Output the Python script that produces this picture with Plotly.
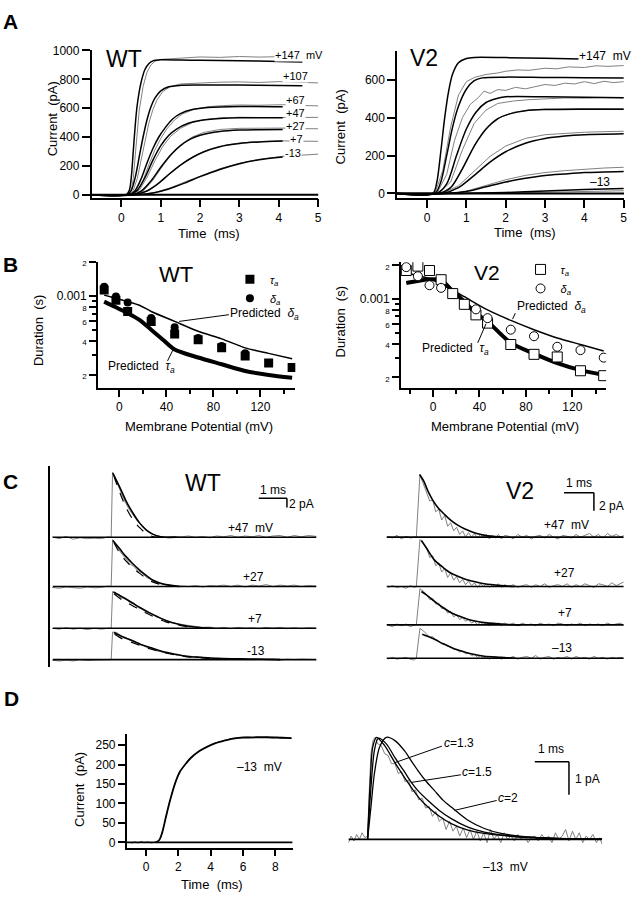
import plotly.graph_objects as go

W, H = 639, 900
FONT = "Liberation Sans, Arial, Helvetica, sans-serif"
GRAY = "#808080"


def fx(px):
    return px / W


def fy(py):
    return 1 - py / H


# ======================= DATA =======================
# ---- Panel A : WT macroscopic currents (time ms, current pA)
A_WT_LABELS = ["+147\u00a0 mV", "+107", "+67", "+47", "+27", "+7", "-13"]
A_WT_FIT_T = [
    [-0.76, 0.12, 0.2, 0.25, 0.3, 0.35, 0.4, 0.5, 0.6, 0.7, 0.8, 1.0, 1.5, 2, 3, 4, 4.6],
    [-0.76, 0.15, 0.25, 0.35, 0.45, 0.55, 0.65, 0.75, 0.85, 1.0, 1.2, 1.5, 2.0, 3.0, 4.0, 4.6],
    [-0.76, 0.2, 0.35, 0.5, 0.65, 0.8, 0.95, 1.1, 1.3, 1.5, 1.8, 2.2, 3.0, 4.1],
    [-0.76, 0.2, 0.4, 0.6, 0.8, 1.0, 1.2, 1.4, 1.7, 2.0, 2.5, 3.0, 4.1],
    [-0.76, 0.25, 0.5, 0.75, 1.0, 1.25, 1.5, 1.75, 2.0, 2.5, 3.0, 4.1],
    [-0.76, 0.3, 0.6, 0.9, 1.2, 1.5, 1.8, 2.1, 2.5, 3.0, 3.5, 4.1],
    [-0.76, 0.4, 0.8, 1.2, 1.6, 2.0, 2.5, 3.0, 3.5, 4.1],
]
A_WT_FIT_I = [
    [0, 0, 30, 120, 300, 480, 620, 780, 870, 910, 928, 935, 934, 932, 928, 924, 920],
    [0, 0, 30, 120, 260, 400, 520, 610, 670, 720, 748, 758, 760, 760, 757, 755],
    [0, 0, 30, 110, 220, 320, 400, 460, 525, 562, 590, 605, 612, 610],
    [0, 0, 30, 120, 240, 340, 410, 455, 495, 515, 528, 533, 533],
    [0, 0, 25, 95, 190, 275, 340, 385, 412, 438, 448, 452],
    [0, 0, 20, 70, 140, 205, 258, 298, 333, 355, 366, 372],
    [0, 0, 12, 40, 80, 125, 175, 215, 243, 262],
]
A_WT_DATA_T = [
    [-0.76, 0.17, 0.25, 0.3, 0.35, 0.4, 0.45, 0.55, 0.65, 0.75, 0.85, 1.0, 1.2, 1.5, 2.0, 2.5, 3.0, 3.5, 4.0, 4.5, 5.0],
    [-0.76, 0.2, 0.3, 0.4, 0.5, 0.6, 0.7, 0.8, 0.9, 1.05, 1.25, 1.5, 2.0, 2.5, 3.0, 3.5, 4.0, 4.5, 5.0],
    [-0.76, 0.25, 0.4, 0.55, 0.7, 0.85, 1.0, 1.15, 1.35, 1.55, 1.85, 2.2, 2.6, 3.0, 3.5, 4.1, 4.6, 5.0],
    [-0.76, 0.25, 0.45, 0.65, 0.85, 1.05, 1.25, 1.5, 1.8, 2.1, 2.5, 3.0, 3.5, 4.1, 4.6, 5.0],
    [-0.76, 0.3, 0.55, 0.8, 1.05, 1.3, 1.55, 1.8, 2.1, 2.5, 3.0, 3.5, 4.1, 4.6, 5.0],
    [-0.76, 0.35, 0.7, 1.0, 1.3, 1.6, 1.9, 2.2, 2.6, 3.0, 3.5, 4.1, 4.6, 5.0],
    [-0.76, 0.45, 0.85, 1.25, 1.65, 2.05, 2.5, 3.0, 3.5, 4.1, 4.6, 5.0],
]
A_WT_DATA_I = [
    [0, 0, 30, 110, 270, 440, 580, 750, 850, 900, 925, 938, 942, 948, 955, 952, 958, 954, 957, 953, 950],
    [0, 0, 30, 110, 240, 380, 500, 590, 655, 715, 750, 768, 776, 780, 782, 778, 784, 780, 775],
    [0, 0, 25, 100, 210, 310, 390, 455, 518, 560, 592, 610, 618, 622, 620, 624, 618, 616],
    [0, 0, 30, 120, 235, 335, 405, 460, 500, 520, 532, 537, 535, 537, 535, 536],
    [0, 0, 25, 100, 200, 288, 355, 400, 432, 452, 460, 462, 462, 458, 457],
    [0, 0, 30, 88, 160, 225, 275, 312, 342, 358, 368, 373, 371, 370],
    [0, 0, 15, 48, 92, 135, 180, 218, 245, 266, 276, 281],
]
A_WT_LABEL_POS = [(275, 49), (283, 70), (286, 94), (286, 107.5), (286, 120), (290, 133.5), (285, 148)]

# ---- Panel A : V2
A_V2_FIT_T = [
    [-0.76, 0.15, 0.25, 0.35, 0.45, 0.55, 0.65, 0.8, 1.0, 1.2, 2.0, 3.0, 3.9],
    [-0.76, 0.2, 0.35, 0.5, 0.65, 0.8, 1.0, 1.2, 1.4, 2.0, 3.0, 4.0, 5.0],
    [-0.76, 0.25, 0.5, 0.75, 1.0, 1.25, 1.5, 1.75, 2.0, 3.0, 4.0, 5.0],
    [-0.76, 0.3, 0.6, 0.9, 1.2, 1.5, 1.8, 2.1, 2.5, 3.0, 4.0, 5.0],
    [-0.76, 0.4, 0.8, 1.2, 1.6, 2.0, 2.5, 3.0, 3.5, 4.0, 5.0],
    [-0.76, 0.5, 1.0, 1.5, 2.0, 2.5, 3.0, 3.5, 4.0, 5.0],
    [-0.76, 0.8, 2.0, 3.0, 4.0, 5.0],
]
A_V2_FIT_I = [
    [0, 0, 60, 220, 400, 540, 630, 690, 712, 718, 717, 714, 710],
    [0, 0, 60, 200, 350, 460, 550, 595, 610, 614, 612, 611, 610],
    [0, 0, 50, 200, 340, 430, 480, 500, 510, 510, 508, 505],
    [0, 0, 30, 130, 250, 340, 395, 420, 437, 443, 445, 445],
    [0, 0, 30, 95, 165, 220, 265, 290, 303, 310, 315],
    [0, 0, 10, 35, 60, 80, 95, 103, 110, 116],
    [0, 0, 5, 12, 20, 26],
]
A_V2_DATA_T = [
    [-0.76, 0.2, 0.4, 0.6, 0.8, 1.0, 1.2, 1.5, 1.8, 2.0, 2.3, 2.6, 3.0, 3.3, 3.6, 4.0, 4.3, 4.6, 5.0],
    [-0.76, 0.25, 0.5, 0.7, 0.9, 1.1, 1.3, 1.45, 1.6, 1.8, 2.0, 2.25, 2.5, 2.75, 3.0, 3.25, 3.5, 3.75, 4.0, 4.25, 4.5, 4.75, 5.0],
    [-0.76, 0.3, 0.6, 0.9, 1.2, 1.5, 1.8, 2.2, 2.6, 3.0, 3.5, 4.0, 4.5, 5.0],
    [-0.76, 0.35, 0.65, 0.95, 1.25, 1.55, 1.85, 2.2, 2.6, 3.0, 4.0, 5.0],
    [-0.76, 0.4, 0.8, 1.2, 1.6, 2.0, 2.5, 3.0, 3.5, 4.0, 4.5, 5.0],
    [-0.76, 0.5, 1.0, 1.5, 2.0, 2.5, 3.0, 3.5, 4.0, 4.5, 5.0],
    [-0.76, 1.0, 2.0, 3.0, 4.0, 5.0],
]
A_V2_DATA_I = [
    [0, 0, 120, 350, 520, 590, 612, 628, 636, 645, 652, 650, 661, 658, 668, 665, 674, 671, 675],
    [0, 0, 100, 280, 400, 470, 505, 540, 528, 548, 544, 560, 552, 565, 575, 570, 582, 578, 590, 580, 592, 585, 590],
    [0, 0, 60, 230, 370, 440, 475, 488, 495, 500, 504, 503, 506, 505],
    [0, 0, 40, 150, 270, 350, 400, 428, 440, 445, 448, 447],
    [0, 0, 40, 120, 195, 250, 290, 310, 318, 323, 326, 328],
    [0, 0, 12, 42, 72, 95, 110, 120, 128, 134, 138],
    [0, 0, 3, 6, 10, 14],
]

# ---- Panel B : durations (mV, s)
B_WT_TAU_V = [-13, -3, 7, 27, 47, 67, 87, 107, 127, 147]
B_WT_TAU = [1.13e-3, 9.2e-4, 7.3e-4, 5.96e-4, 4.6e-4, 4.1e-4, 3.48e-4, 2.94e-4, 2.54e-4, 2.32e-4]
B_WT_DEL_V = [-13, -3, 7, 27, 47, 67, 87, 107]
B_WT_DEL = [1.21e-3, 9.9e-4, 8.75e-4, 6.4e-4, 5.28e-4, 4.25e-4, 3.6e-4, 3.1e-4]
B_WT_PD_V = [-13, -3, 7, 17, 27, 47, 67, 87, 107, 127, 147]
B_WT_PD = [1.02e-3, 9.55e-4, 8.93e-4, 8.3e-4, 7.3e-4, 5.96e-4, 4.87e-4, 4.17e-4, 3.47e-4, 3.1e-4, 2.78e-4]
B_WT_PT_V = [-13, -3, 7, 17, 27, 37, 47, 67, 87, 107, 127, 147]
B_WT_PT = [8.93e-4, 7.96e-4, 7.05e-4, 6.16e-4, 5.03e-4, 4.1e-4, 3.36e-4, 2.85e-4, 2.48e-4, 2.16e-4, 1.99e-4, 1.88e-4]

B_V2_TAU_V = [-23, -13, -3, 7, 17, 27, 37, 47, 67, 87, 107, 127, 147]
B_V2_TAU = [1.8e-3, 1.97e-3, 1.8e-3, 1.49e-3, 1.12e-3, 8.98e-4, 7.23e-4, 6.1e-4, 3.93e-4, 3.21e-4, 3.04e-4, 2.29e-4, 2.07e-4]
B_V2_DEL_V = [-23, -13, -3, 7, 37, 47, 67, 87, 107, 127, 147]
B_V2_DEL = [1.93e-3, 1.6e-3, 1.33e-3, 1.26e-3, 8.1e-4, 6.76e-4, 5.33e-4, 4.66e-4, 3.75e-4, 3.5e-4, 3.0e-4]
B_V2_PD_V = [-23, -3, 17, 27, 47, 67, 87, 107, 127, 147]
B_V2_PD = [1.71e-3, 1.52e-3, 1.2e-3, 1.05e-3, 8.0e-4, 6.45e-4, 5.33e-4, 4.5e-4, 3.93e-4, 3.44e-4]
B_V2_PT_V = [-23, -13, -3, 7, 17, 27, 37, 47, 67, 87, 107, 127, 147]
B_V2_PT = [1.39e-3, 1.45e-3, 1.5e-3, 1.47e-3, 1.18e-3, 9.5e-4, 7.46e-4, 6.3e-4, 4.06e-4, 3.26e-4, 2.68e-4, 2.32e-4, 2.1e-4]

B_Y_TICKVALS = [2e-4, 4e-4, 6e-4, 8e-4, 1e-3, 2e-3]
B_Y_TICKTEXT = ['<span style="font-size:8px">2</span>', '<span style="font-size:8px">4</span>',
                '<span style="font-size:8px">6</span>', '<span style="font-size:8px">8</span>',
                '0.001', '<span style="font-size:8px">2</span>']
B_Y_MINOR = [3e-4, 5e-4, 7e-4, 9e-4]

# ---- Panel C : unitary-like traces (ms, pA, relative to each baseline)
C_LABELS_WT = ["+47\u00a0 mV", "+27", "+7", "-13"]
C_LABELS_V2 = ["+47\u00a0 mV", "+27", "+7", "\u201313"]
C_WT_BASE = [28.2, 17.5, 8.4, 1.57]      # baseline offsets (layout)
C_V2_BASE = [14.35, 8.89, 4.64, 0.95]

C_WT_FIT_T = [
    [0.06, 0.29, 0.53, 0.76, 1.0, 1.24, 1.47, 1.71, 1.94, 2.3],
    [0.06, 0.29, 0.53, 0.76, 1.0, 1.24, 1.47, 1.7, 1.94, 2.41],
    [0.08, 0.4, 0.76, 1.05, 1.35, 1.65, 1.94, 2.25, 2.53, 3.12, 3.6],
    [0.1, 0.4, 0.76, 1.05, 1.35, 1.65, 1.94, 2.3, 2.65, 3.2, 3.71, 4.3, 4.89, 6.0],
]
C_WT_FIT_Y = [
    [14.0, 11.1, 7.9, 5.4, 3.2, 1.6, 0.7, 0.2, 0.0, 0.0],
    [10.0, 8.3, 6.5, 5.0, 3.6, 2.4, 1.4, 0.8, 0.4, 0.0],
    [7.9, 6.8, 5.5, 4.4, 3.4, 2.5, 1.7, 1.1, 0.65, 0.15, 0.0],
    [5.9, 5.0, 4.1, 3.3, 2.7, 2.1, 1.6, 1.15, 0.75, 0.5, 0.3, 0.2, 0.15, 0.0],
]
C_WT_DASH_T = [
    [0.1, 0.29, 0.53, 0.76, 1.0, 1.24, 1.47, 1.7],
    [0.1, 0.29, 0.53, 0.76, 1.0, 1.24, 1.47, 1.7, 1.94, 2.3],
    [0.1, 0.4, 0.76, 1.05, 1.35, 1.65, 1.94, 2.25, 2.53, 3.0],
    [0.12, 0.4, 0.76, 1.05, 1.35, 1.65, 1.94, 2.3, 2.65, 3.2, 3.71, 4.3],
]
C_WT_DASH_Y = [
    [13.3, 10.0, 6.45, 3.96, 2.15, 0.86, 0.15, 0.0],
    [9.5, 7.4, 5.5, 4.1, 2.9, 1.8, 1.0, 0.5, 0.3, 0.0],
    [7.5, 6.1, 4.9, 3.9, 3.0, 2.1, 1.4, 0.9, 0.5, 0.0],
    [5.5, 4.5, 3.7, 3.0, 2.4, 1.9, 1.45, 1.0, 0.65, 0.35, 0.15, 0.0],
]
C_WT_DATA_T = [-2.1, -1.85, -1.6, -1.35, -1.1, -0.85, -0.6, -0.35, -0.1, 0.0, 0.05,
               0.2, 0.35, 0.5, 0.65, 0.8, 0.95, 1.1, 1.25, 1.4, 1.6, 1.8, 2.0,
               2.25, 2.5, 2.75, 3.0, 3.25, 3.5, 3.75, 4.0, 4.25, 4.5, 4.75, 5.0,
               5.25, 5.5, 5.75, 6.0, 6.25, 6.5, 6.75, 7.0, 7.29]
C_WT_DATA_Y = [
    [0.1, -0.3, 0.2, -0.4, -0.1, -0.3, -0.2, -0.3, 0.1, 0.0, 14.2,
     12.0, 9.5, 7.6, 6.0, 4.6, 3.4, 2.7, 1.6, 0.9, 0.4, 0.1, -0.1,
     0.2, 0.1, 0.3, 0.0, 0.2, -0.1, 0.3, 0.1, 0.4, 0.0, 0.3, 0.1,
     0.4, 0.0, 0.3, 0.4, 0.0, 0.4, 0.1, 0.4, 0.2],
    [-0.2, -0.4, -0.1, -0.3, -0.4, -0.1, -0.3, -0.2, 0.1, 0.0, 10.2,
     8.8, 7.3, 6.2, 5.0, 4.4, 3.4, 2.9, 2.0, 1.5, 0.9, 0.5, 0.3,
     0.2, 0.1, 0.0, 0.2, -0.1, 0.2, 0.1, 0.3, 0.0, 0.3, -0.1, 0.3,
     0.1, 0.4, 0.0, 0.3, 0.1, 0.3, 0.0, 0.2, 0.1],
    [0.0, -0.2, 0.1, -0.2, 0.0, -0.3, 0.0, -0.2, 0.0, 0.0, 8.0,
     7.6, 6.6, 6.6, 5.6, 5.3, 4.5, 4.2, 3.5, 3.3, 2.5, 2.0, 1.6,
     1.1, 0.8, 0.6, 0.4, 0.2, 0.25, 0.0, 0.2, -0.1, 0.2, 0.0, 0.1,
     -0.1, 0.2, 0.0, 0.2, -0.1, 0.1, -0.1, 0.1, 0.0],
    [-0.1, -0.3, -0.1, -0.3, 0.0, -0.2, -0.1, -0.1, 0.0, 0.0, 6.0,
     5.9, 5.1, 4.9, 4.2, 4.0, 3.3, 3.2, 2.7, 2.6, 1.95, 1.6, 1.35,
     1.1, 0.9, 0.7, 0.55, 0.45, 0.35, 0.3, 0.15, 0.2, 0.05, 0.1, 0.0,
     0.1, 0.0, 0.1, -0.1, 0.1, 0.0, 0.1, 0.0, 0.0],
]

C_V2_FIT_T = [
    [0.11, 0.25, 0.39, 0.55, 0.72, 0.95, 1.17, 1.4, 1.61, 1.85, 2.06, 2.3, 2.5, 2.9],
    [0.17, 0.35, 0.61, 0.9, 1.17, 1.45, 1.72, 2.0, 2.28, 2.83, 3.3],
    [0.17, 0.35, 0.61, 0.9, 1.17, 1.45, 1.72, 2.0, 2.28, 2.94, 3.5],
    [0.2, 0.4, 0.61, 0.9, 1.17, 1.45, 1.72, 2.0, 2.28, 2.83, 3.3],
]
C_V2_FIT_Y = [
    [6.93, 6.2, 5.1, 4.1, 3.28, 2.5, 1.83, 1.3, 0.92, 0.6, 0.37, 0.2, 0.11, 0.0],
    [5.1, 4.2, 2.92, 2.1, 1.46, 1.05, 0.73, 0.5, 0.3, 0.1, 0.0],
    [3.7, 3.3, 2.6, 1.9, 1.35, 0.95, 0.62, 0.4, 0.25, 0.07, 0.0],
    [2.66, 2.4, 2.1, 1.6, 1.2, 0.85, 0.58, 0.38, 0.22, 0.1, 0.0],
]
C_V2_DATA_T = [-0.95, -0.8, -0.65, -0.5, -0.35, -0.2, -0.07, 0.0, 0.12,
               0.25, 0.35, 0.45, 0.55, 0.65, 0.75, 0.85, 0.95, 1.05, 1.15,
               1.25, 1.35, 1.45, 1.55, 1.65, 1.75, 1.85, 1.95, 2.05, 2.15,
               2.25, 2.35, 2.45, 2.55, 2.65, 2.75, 2.85, 2.95,
               3.1, 3.25, 3.4, 3.55, 3.7, 3.85, 4.0, 4.15, 4.3, 4.45, 4.6, 4.75, 4.9,
               5.05, 5.2, 5.35, 5.5, 5.65, 5.8, 5.95, 6.1, 6.25, 6.4, 6.55, 6.7, 6.85, 6.95]
C_V2_DATA_Y = [
    [0.1, -0.1, 0.2, -0.2, 0.1, -0.1, 0.0, 0.0, 6.9,
     5.8, 5.0, 4.0, 4.1, 2.8, 3.1, 1.9, 2.4, 1.2, 1.6,
     0.7, 1.1, 0.3, 0.7, 0.0, 0.5, 0.0, 0.4, -0.1, 0.3,
     0.0, 0.3, -0.2, 0.2, -0.1, 0.3, -0.2, 0.2,
     0.1, -0.2, 0.3, 0.0, 0.2, -0.2, 0.1, 0.2, -0.1, 0.3, 0.0, -0.2, 0.2,
     0.1, -0.1, 0.3, 0.0, 0.2, 0.4, 0.0, 0.3, -0.1, 0.4, 0.1, 0.3, 0.0, 0.2],
    [-0.1, 0.1, -0.1, 0.0, -0.2, 0.1, -0.1, 0.0, 5.2,
     4.6, 4.2, 3.2, 3.4, 2.3, 2.6, 1.6, 2.0, 1.0, 1.5,
     0.7, 1.1, 0.4, 0.8, 0.2, 0.6, 0.1, 0.4, -0.1, 0.3,
     0.0, 0.3, -0.1, 0.2, 0.0, 0.3, -0.1, 0.2,
     0.0, 0.2, -0.1, 0.1, 0.2, -0.1, 0.2, 0.0, 0.3, -0.1, 0.1, 0.2, 0.0,
     0.3, -0.1, 0.2, 0.0, 0.3, 0.1, -0.1, 0.3, 0.2, 0.0, 0.4, 0.1, 0.3, 0.5],
    [0.0, -0.2, 0.1, -0.1, 0.1, -0.2, 0.0, 0.0, 4.0,
     3.7, 3.3, 2.8, 2.9, 2.3, 2.4, 1.8, 1.9, 1.3, 1.5,
     0.9, 1.1, 0.6, 0.8, 0.4, 0.6, 0.2, 0.4, 0.0, 0.3,
     0.0, 0.3, -0.1, 0.2, 0.0, 0.2, -0.1, 0.2,
     0.0, 0.2, -0.1, 0.2, 0.0, 0.1, -0.1, 0.2, 0.0, 0.1, -0.1, 0.2, 0.1,
     -0.1, 0.1, 0.0, 0.2, -0.1, 0.1, 0.0, 0.1, -0.1, 0.2, 0.0, 0.1, 0.2, -0.1],
    [-0.1, 0.1, -0.1, 0.0, 0.1, -0.1, -0.2, 0.0, 3.3,
     3.0, 2.6, 2.3, 2.4, 2.0, 1.9, 1.6, 1.6, 1.3, 1.3,
     1.0, 1.0, 0.7, 0.8, 0.5, 0.6, 0.3, 0.4, 0.1, 0.3,
     0.0, 0.2, -0.1, 0.2, 0.0, 0.1, -0.1, 0.1,
     0.0, 0.2, -0.1, 0.1, 0.2, 0.0, 0.3, -0.1, 0.1, 0.2, -0.1, 0.1, 0.0,
     0.2, -0.1, 0.2, 0.0, 0.1, -0.1, 0.2, 0.0, 0.1, -0.1, 0.1, 0.0, 0.1, 0.0],
]

# ---- Panel D left : -13 mV macroscopic current
D_L_DATA_T = [-0.9, -0.7, -0.5, -0.3, -0.1, 0.1, 0.3, 0.5, 0.7, 0.9, 1.1, 1.3, 1.5, 1.7, 1.9,
              2.1, 2.4, 2.7, 3.0, 3.3, 3.6, 3.9, 4.2, 4.5, 4.8, 5.1, 5.4, 5.7, 6.0, 6.3,
              6.6, 6.9, 7.2, 7.5, 7.8, 8.1, 8.4, 8.7, 9.0]
D_L_DATA_I = [-3, 2, -2, 3, -1, 2, -2, 1, 2, 10, 40, 78, 112, 140, 163,
              180, 200, 215, 226, 236, 242, 249, 254, 258, 262, 265, 268, 270, 271, 272,
              270, 272, 269, 271, 268, 270, 267, 269, 267]
D_L_FIT_T = [0.6, 0.82, 1.0, 1.23, 1.5, 1.85, 2.1, 2.42, 2.8, 3.28, 3.8, 4.3, 4.8, 5.3, 6.0, 7.35, 9.0]
D_L_FIT_I = [0, 6, 25, 65, 110, 158, 182, 200, 218, 234, 246, 255, 261, 266, 269, 270, 268]

# ---- Panel D right : -13 mV normalized trace and predictions for c
D_R_DATA_T = [-0.56, -0.48, -0.4, -0.32, -0.24, -0.16, -0.08, 0.0, 0.05, 0.1, 0.16, 0.22,
              0.3, 0.4, 0.5, 0.6, 0.7, 0.8, 0.9, 1.0, 1.1, 1.2,
              1.3, 1.4, 1.5, 1.6, 1.7, 1.8, 1.9, 2.0, 2.1, 2.2,
              2.3, 2.4, 2.5, 2.6, 2.7, 2.8, 2.9, 3.0, 3.1, 3.2,
              3.3, 3.4, 3.5, 3.6, 3.7, 3.8, 3.9, 4.0, 4.1, 4.2,
              4.3, 4.4, 4.5, 4.6, 4.7, 4.8, 4.9, 5.0, 5.1, 5.2,
              5.3, 5.4, 5.5, 5.6, 5.7, 5.8, 5.9, 6.0, 6.1, 6.2,
              6.3, 6.4, 6.5, 6.6, 6.7, 6.8, 6.87]
D_R_DATA_Y = [-0.1, 0.1, -0.05, 0.15, 0.0, 0.2, 0.05, 0.1, 1.5, 2.6, 3.0, 3.1,
              2.9, 2.85, 2.6, 2.55, 2.3, 2.3, 2.0, 2.05, 1.75, 1.8,
              1.45, 1.5, 1.2, 1.25, 0.95, 1.0, 0.7, 0.85, 0.55, 0.65,
              0.3, 0.55, 0.25, 0.4, 0.1, 0.35, 0.05, 0.3, 0.0, 0.25,
              -0.05, 0.2, -0.1, 0.3, 0.0, 0.15, -0.1, 0.2, 0.0, 0.1,
              -0.05, 0.15, 0.0, 0.1, -0.1, 0.05, 0.1, -0.05, 0.15, 0.0,
              0.1, -0.1, 0.2, 0.0, 0.1, 0.3, -0.05, 0.25, 0.0, 0.2,
              -0.1, 0.1, 0.0, 0.15, -0.1, 0.05, -0.15]
D_R_C_LABELS = ["<i>c</i>=1.3", "<i>c</i>=1.5", "<i>c</i>=2"]
D_R_C_T = [
    [0.0, 0.08, 0.15, 0.26, 0.5, 0.8, 1.05, 1.28, 1.5, 1.77, 2.1, 2.45, 2.94, 3.42, 4.4, 5.5, 6.87],
    [0.0, 0.1, 0.2, 0.31, 0.55, 0.8, 1.05, 1.28, 1.5, 1.77, 2.1, 2.45, 2.94, 3.42, 4.4, 5.5, 6.87],
    [0.0, 0.1, 0.2, 0.35, 0.55, 0.8, 1.09, 1.3, 1.48, 1.7, 1.96, 2.2, 2.45, 2.94, 3.42, 3.91, 4.88, 6.34, 6.87],
]
D_R_C_Y = [
    [0, 1.8, 2.8, 3.1, 2.85, 2.33, 1.93, 1.58, 1.27, 0.98, 0.7, 0.48, 0.28, 0.18, 0.08, 0.03, 0.01],
    [0, 1.6, 2.7, 3.07, 2.9, 2.48, 2.1, 1.73, 1.45, 1.18, 0.88, 0.63, 0.37, 0.22, 0.08, 0.03, 0.01],
    [0, 1.0, 2.0, 2.8, 3.1, 3.0, 2.68, 2.35, 2.08, 1.78, 1.48, 1.2, 0.98, 0.58, 0.33, 0.18, 0.06, 0.01, 0.0],
]

# ======================= FIGURE =======================
fig = go.Figure()


def add_line(xs, ys, ax, color="black", width=1.5, shape="linear", dash="solid"):
    fig.add_trace(go.Scatter(
        x=xs, y=ys, mode="lines",
        line=dict(color=color, width=width, shape=shape, dash=dash, smoothing=0.8),
        xaxis="x" + ax, yaxis="y" + ax, hoverinfo="skip", showlegend=False))


# ---------- Panel A ----------
A_XR = [-0.76, 5.01]
for t, i in zip(A_WT_DATA_T, A_WT_DATA_I):
    add_line(t, i, "", color=GRAY, width=1)
for t, i in zip(A_WT_FIT_T, A_WT_FIT_I):
    add_line(t, i, "", width=1.5, shape="spline")
add_line(A_XR, [0, 0], "", width=2)

for t, i in zip(A_V2_DATA_T, A_V2_DATA_I):
    add_line(t, i, "2", color=GRAY, width=1)
for t, i in zip(A_V2_FIT_T, A_V2_FIT_I):
    add_line(t, i, "2", width=1.5, shape="spline")
add_line(A_XR, [0, 0], "2", width=2)

# ---------- Panel B ----------
add_line(B_WT_PD_V, B_WT_PD, "3", width=1.5, shape="spline")
add_line(B_WT_PT_V, B_WT_PT, "3", width=4, shape="spline")
fig.add_trace(go.Scatter(x=B_WT_TAU_V, y=B_WT_TAU, mode="markers", xaxis="x3", yaxis="y3",
                         marker=dict(symbol="square", size=9, color="black"),
                         name="<i>\u03c4<sub>a</sub></i>", legend="legend", hoverinfo="skip"))
fig.add_trace(go.Scatter(x=B_WT_DEL_V, y=B_WT_DEL, mode="markers", xaxis="x3", yaxis="y3",
                         marker=dict(symbol="circle", size=8, color="black"),
                         name="<i>\u03b4<sub>a</sub></i>", legend="legend", hoverinfo="skip"))

add_line(B_V2_PD_V, B_V2_PD, "4", width=1.5, shape="spline")
add_line(B_V2_PT_V, B_V2_PT, "4", width=4, shape="spline")
fig.add_trace(go.Scatter(x=B_V2_TAU_V, y=B_V2_TAU, mode="markers", xaxis="x4", yaxis="y4",
                         marker=dict(symbol="square", size=10, color="white",
                                     line=dict(color="black", width=1)),
                         name="<i>\u03c4<sub>a</sub></i>", legend="legend2", hoverinfo="skip"))
fig.add_trace(go.Scatter(x=B_V2_DEL_V, y=B_V2_DEL, mode="markers", xaxis="x4", yaxis="y4",
                         marker=dict(symbol="circle", size=9, color="white",
                                     line=dict(color="black", width=1)),
                         name="<i>\u03b4<sub>a</sub></i>", legend="legend2", hoverinfo="skip"))

# ---------- Panel C ----------
C_WT_XR = [-2.07, 7.29]
C_V2_XR = [-1.0, 6.95]
for k in range(4):
    b = C_WT_BASE[k]
    add_line(C_WT_DATA_T, [v + b for v in C_WT_DATA_Y[k]], "5", color=GRAY, width=1)
    add_line(C_WT_DASH_T[k], [v + b for v in C_WT_DASH_Y[k]], "5", width=1.2, shape="spline", dash="dash")
    add_line(C_WT_FIT_T[k], [v + b for v in C_WT_FIT_Y[k]], "5", width=1.6, shape="spline")
    add_line(C_WT_XR, [b, b], "5", width=1.6)
for k in range(4):
    b = C_V2_BASE[k]
    add_line(C_V2_DATA_T, [v + b for v in C_V2_DATA_Y[k]], "6", color=GRAY, width=1)
    add_line(C_V2_FIT_T[k], [v + b for v in C_V2_FIT_Y[k]], "6", width=1.6, shape="spline")
    add_line(C_V2_XR, [b, b], "6", width=1.6)

# ---------- Panel D ----------
add_line(D_L_DATA_T, D_L_DATA_I, "7", color=GRAY, width=1)
add_line(D_L_FIT_T, D_L_FIT_I, "7", width=1.8, shape="spline")
add_line([-1.194, 9.065], [0, 0], "7", width=1.8)

add_line(D_R_DATA_T, D_R_DATA_Y, "8", color=GRAY, width=1)
for t, y in zip(D_R_C_T, D_R_C_Y):
    add_line(t, y, "8", width=1.3, shape="spline")
add_line([-0.56, 6.87], [0, 0], "8", width=1.8)


# ---------- Axes ----------
def vis_axis(**kw):
    d = dict(showline=True, linecolor="black", linewidth=1.5, ticks="outside", ticklen=8,
             tickwidth=1.5, tickcolor="black", showgrid=False, zeroline=False,
             tickfont=dict(size=12, family=FONT, color="black"), fixedrange=True)
    d.update(kw)
    return d


def hid_axis(**kw):
    d = dict(visible=False, showgrid=False, zeroline=False, fixedrange=True)
    d.update(kw)
    return d


def dom_x(a, b):
    return [fx(a), fx(b)]


def dom_y(bottom, top):
    return [fy(bottom), fy(top)]


minor_x = dict(ticks="outside", ticklen=4, tickwidth=1.5, tickcolor="black", dtick=20, tick0=0, showgrid=False)
minor_y = dict(ticks="outside", ticklen=4, tickwidth=1.5, tickcolor="black", tickvals=B_Y_MINOR, showgrid=False)

layout_axes = dict(
    xaxis=vis_axis(domain=dom_x(92, 320), range=A_XR, anchor="y", tickvals=[0, 1, 2, 3, 4, 5]),
    yaxis=vis_axis(domain=dom_y(193, 44), range=[-20.5, 1000], anchor="x",
                   tickvals=[0, 200, 400, 600, 800, 1000]),
    xaxis2=vis_axis(domain=dom_x(399, 627), range=A_XR, anchor="y2", tickvals=[0, 1, 2, 3, 4, 5]),
    yaxis2=vis_axis(domain=dom_y(193.3, 45), range=[-24, 749.6], anchor="x2",
                    tickvals=[0, 200, 400, 600]),
    xaxis3=vis_axis(domain=dom_x(98.3, 296.7), range=[-18.4, 149.7], anchor="y3",
                    tickvals=[0, 40, 80, 120], ticklen=7, minor=minor_x),
    yaxis3=vis_axis(domain=dom_y(385.7, 258), type="log", range=[-3.816, -2.696], anchor="x3",
                    tickvals=B_Y_TICKVALS, ticktext=B_Y_TICKTEXT, ticklen=7, minor=minor_y),
    xaxis4=vis_axis(domain=dom_x(402.7, 609), range=[-27.7, 149.1], anchor="y4",
                    tickvals=[0, 40, 80, 120], ticklen=7, minor=minor_x),
    yaxis4=vis_axis(domain=dom_y(385.7, 258.3), type="log", range=[-3.794, -2.67], anchor="x4",
                    tickvals=B_Y_TICKVALS, ticktext=B_Y_TICKTEXT, ticklen=7, minor=minor_y),
    xaxis5=hid_axis(domain=dom_x(50.7, 318), range=[-2.155, 7.29], anchor="y5"),
    yaxis5=dict(domain=dom_y(668, 465), range=[0, 43.66], anchor="x5", showline=True,
                linecolor="black", linewidth=1.5, ticks="", showticklabels=False,
                showgrid=False, zeroline=False, fixedrange=True),
    xaxis6=hid_axis(domain=dom_x(388.3, 626.7), range=[-1.0, 6.95], anchor="y6"),
    yaxis6=hid_axis(domain=dom_y(668, 465), range=[0, 22.19], anchor="x6"),
    xaxis7=vis_axis(domain=dom_x(127.3, 294), range=[-1.194, 9.065], anchor="y7",
                    tickvals=[0, 2, 4, 6, 8], ticklen=7),
    yaxis7=vis_axis(domain=dom_y(851, 736), range=[-13.45, 278.4], anchor="x7",
                    tickvals=[0, 50, 100, 150, 200, 250], ticklen=7),
    xaxis8=hid_axis(domain=dom_x(350, 605), range=[-0.563, 6.87], anchor="y8"),
    yaxis8=hid_axis(domain=dom_y(850, 735), range=[-0.22, 3.23], anchor="x8"),
)

# ---------- Text ----------
annotations = []


def ann(text, px, py, size=11, xanchor="center", yanchor="middle", angle=0, bold=False, bg=None):
    d = dict(text=("<b>%s</b>" % text) if bold else text, x=fx(px), y=fy(py),
             xref="paper", yref="paper", showarrow=False, xanchor=xanchor, yanchor=yanchor,
             textangle=angle, font=dict(size=size, family=FONT, color="black"), borderpad=0)
    if bg:
        d["bgcolor"] = bg
    annotations.append(d)


# panel letters
ann("A", 11, 15, size=21, bold=True)
ann("B", 11, 261, size=21, bold=True)
ann("C", 11, 480, size=21, bold=True)
ann("D", 11.5, 700, size=21, bold=True)

# Panel A
ann("WT", 125, 53, size=23)
ann("V2", 426, 52, size=23)
for lab, (px, py) in zip(A_WT_LABELS, A_WT_LABEL_POS):
    ann(lab, px, py, size=11, xanchor="left", bg="white")
ann("+147\u00a0 mV", 581, 50, size=12, xanchor="left", bg="white")
ann("\u201313", 603, 177, size=12)
ann("Current  (pA)", 53, 113, size=13, angle=-90)
ann("Current  (pA)", 342.5, 121, size=13, angle=-90)
ann("Time  (ms)", 210, 229, size=13)
ann("Time  (ms)", 527, 228, size=13)

# Panel B
ann("WT", 176.5, 271, size=22)
ann("V2", 489, 268.5, size=21)
ann("Predicted  <i>\u03b4<sub>a</sub></i>", 230, 311, size=12, xanchor="left")
ann("Predicted  <i>\u03c4<sub>a</sub></i>", 108, 364, size=12, xanchor="left")
ann("Predicted  <i>\u03b4<sub>a</sub></i>", 518, 304, size=12, xanchor="left")
ann("Predicted  <i>\u03c4<sub>a</sub></i>", 423, 346, size=12, xanchor="left")
ann("Duration  (s)", 38.3, 327, size=13, angle=-90)
ann("Duration  (s)", 342, 318, size=13, angle=-90)
ann("Membrane Potential (mV)", 200, 425, size=13)
ann("Membrane Potential (mV)", 507.5, 425, size=13)

# Panel C
ann("WT", 203.5, 481.5, size=23)
ann("V2", 522.5, 489.5, size=23)
for lab, (px, py) in zip(C_LABELS_WT, [(252, 527), (255, 577), (256.5, 620), (257, 652)]):
    ann(lab, px, py, size=12)
for lab, (px, py) in zip(C_LABELS_V2, [(569, 524), (566.7, 573), (567.5, 613), (565, 649)]):
    ann(lab, px, py, size=12)
ann("1 ms", 274, 488.5, size=12)
ann("2 pA", 303, 503, size=12)
ann("1 ms", 581.7, 481.7, size=12)
ann("2 pA", 614, 505, size=12)

# Panel D
ann("Current  (pA)", 80, 792, size=13, angle=-90)
ann("Time  (ms)", 212.5, 888.3, size=13)
ann("\u201313  mV", 261, 769.3, size=12)
ann("\u201313  mV", 508, 871, size=12)
ann("1 ms", 554, 750.7, size=12)
ann("1 pA", 590.5, 781.7, size=12)
for lab, (px, py) in zip(D_R_C_LABELS, [(445, 745), (463, 774), (499, 800.7)]):
    ann(lab, px, py, size=12, xanchor="left")

# ---------- Shapes (pointer lines and scale bars) ----------
shapes = []


def pline(x0, y0, x1, y1, w=1):
    shapes.append(dict(type="line", xref="paper", yref="paper", x0=fx(x0), y0=fy(y0),
                       x1=fx(x1), y1=fy(y1), line=dict(color="black", width=w)))


def dline(ax, x0, y0, x1, y1, w=1.5):
    shapes.append(dict(type="line", xref="x" + ax, yref="y" + ax, x0=x0, y0=y0,
                       x1=x1, y1=y1, line=dict(color="black", width=w)))


pline(230, 311.5, 180, 318.3)
pline(168.3, 358.3, 174, 346.7)
pline(517.7, 310, 515, 316)
pline(480, 340, 488.3, 320.7)
pline(444, 748.3, 396.7, 765)
pline(463, 777.3, 413.3, 785)
pline(499, 803.3, 456.7, 813.3)

# scale bars (data units)
dline("5", 5.24, 36.71, 6.24, 36.71)
dline("5", 6.24, 36.71, 6.24, 34.71)
dline("6", 4.95, 19.27, 5.95, 19.27)
dline("6", 5.95, 19.27, 5.95, 17.27)
dline("8", 4.898, 2.354, 5.898, 2.354)
dline("8", 5.898, 2.354, 5.898, 1.354)

fig.update_layout(
    width=W, height=H, margin=dict(l=0, r=0, t=0, b=0, pad=0),
    paper_bgcolor="white", plot_bgcolor="rgba(0,0,0,0)",
    font=dict(family=FONT, size=11, color="black"),
    annotations=annotations, shapes=shapes, showlegend=True,
    legend=dict(x=fx(231), y=fy(261), xanchor="left", yanchor="top", bgcolor="rgba(0,0,0,0)",
                font=dict(size=11, family=FONT), itemwidth=30, tracegroupgap=0),
    legend2=dict(x=fx(523), y=fy(251), xanchor="left", yanchor="top", bgcolor="rgba(0,0,0,0)",
                 font=dict(size=11, family=FONT), itemwidth=30, tracegroupgap=0),
    **layout_axes,
)

fig.write_html("out.html", config={"displayModeBar": False},
               post_script="document.body.style.margin='0px';")
